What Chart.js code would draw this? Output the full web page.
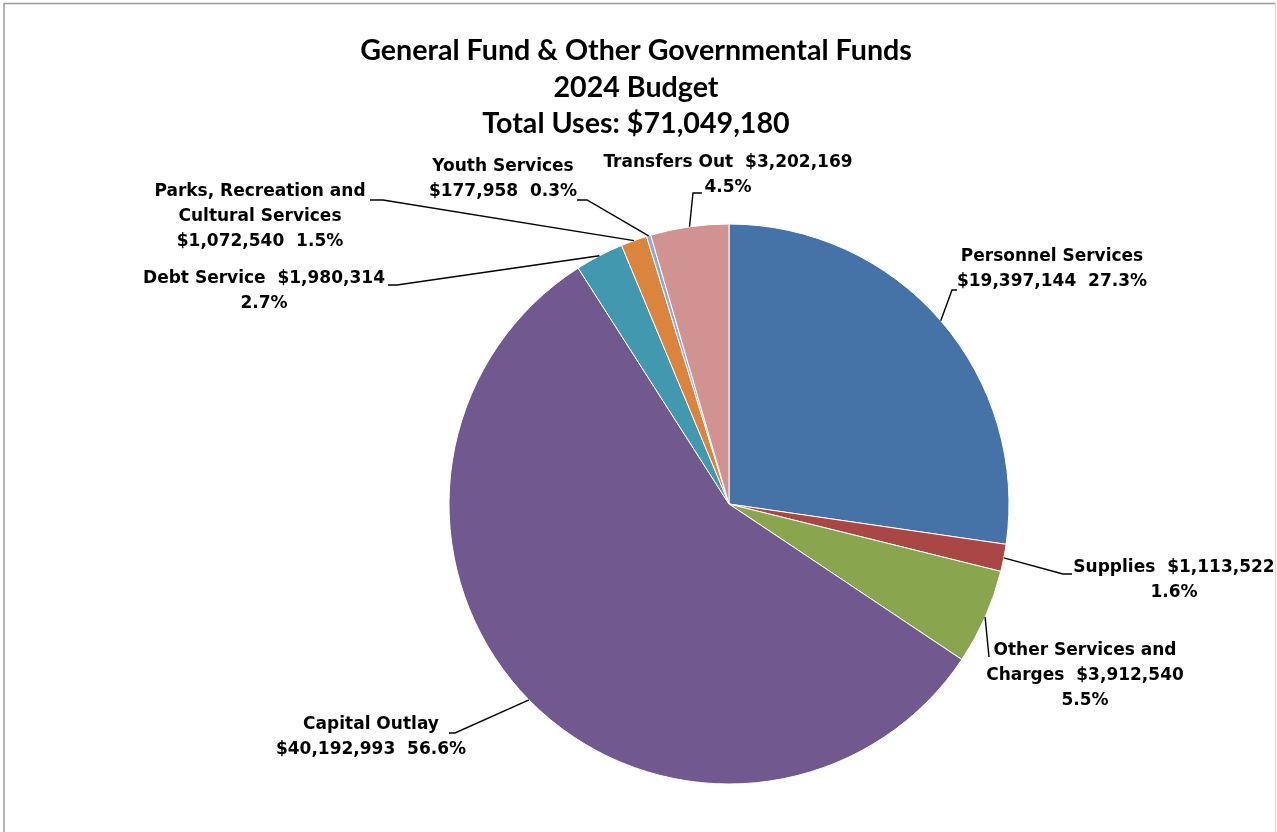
<!DOCTYPE html>
<html>
<head>
<meta charset="utf-8">
<script src="https://cdn.jsdelivr.net/npm/chart.js@4/dist/chart.umd.min.js"></script>
<style>
  html, body { margin: 0; padding: 0; background: #ffffff; }
  canvas { display: block; }
</style>
</head>
<body>
<canvas id="budgetPie" width="1277" height="832"></canvas>
<script>
// Budget categories and amounts (2024 uses of funds)
const categories = [
  'Personnel Services',
  'Supplies',
  'Other Services and Charges',
  'Capital Outlay',
  'Debt Service',
  'Parks, Recreation and Cultural Services',
  'Youth Services',
  'Transfers Out'
];
const amounts = [19397144, 1113522, 3912540, 40192993, 1980314, 1072540, 177958, 3202169];
// Printed share of total for each category
const shareLabels = ['27.3%', '1.6%', '5.5%', '56.6%', '2.7%', '1.5%', '0.3%', '4.5%'];
const sliceColors = ['#4572A7', '#AA4643', '#89A54E', '#71588F', '#4198AF', '#DB843D', '#93A9CF', '#D19392'];
const titleLines = ['General Fund & Other Governmental Funds', '2024 Budget', 'Total Uses: {total}'];

// Label text per slice: {v} = dollar amount, {p} = share of total
const labelTemplates = [
  ['Personnel Services', '{v}  {p}'],
  ['Supplies  {v}', '{p}'],
  ['Other Services and', 'Charges  {v}', '{p}'],
  ['Capital Outlay', '{v}  {p}'],
  ['Debt Service  {v}', '{p}'],
  ['Parks, Recreation and', 'Cultural Services', '{v}  {p}'],
  ['Youth Services', '{v}  {p}'],
  ['Transfers Out  {v}', '{p}']
];

// Where each label sits and how its leader line bends
const labelLayout = [
  { x: 1052, y: 257, elbow: [952, 290], end: [957, 290] },
  { x: 1174, y: 568, elbow: [1063, 574], end: [1072, 574] },
  { x: 1085, y: 651, elbow: [989, 657], end: null },
  { x: 371,  y: 725, elbow: [455, 733], end: [449, 733] },
  { x: 264,  y: 279, elbow: [397, 285], end: [388, 285] },
  { x: 260,  y: 192, elbow: [383, 200], end: [370, 200] },
  { x: 503,  y: 167, elbow: [587, 200], end: [577, 200] },
  { x: 728,  y: 163, elbow: [693, 193], end: [702, 193] }
];

const total = amounts.reduce((a, b) => a + b, 0);
const money = v => '$' + v.toLocaleString('en-US');

const LABEL_FONT = 'bold 17px "DejaVu Sans", sans-serif';
const TITLE_FAMILY = 'Lato, "Liberation Sans", sans-serif';

const framePlugin = {
  id: 'frame',
  beforeDraw(chart) {
    const ctx = chart.ctx;
    ctx.save();
    ctx.fillStyle = '#ffffff';
    ctx.fillRect(0, 0, chart.width, chart.height);
    ctx.strokeStyle = '#9c9c9c';
    ctx.lineWidth = 1.5;
    ctx.beginPath();
    ctx.moveTo(4, chart.height + 5);
    ctx.lineTo(4, 3.5);
    ctx.lineTo(1275.5, 3.5);
    ctx.stroke();
    ctx.strokeStyle = '#d8d8d8';
    ctx.lineWidth = 1;
    ctx.beginPath();
    ctx.moveTo(1275.5, 3.5);
    ctx.lineTo(1275.5, chart.height + 5);
    ctx.stroke();
    ctx.restore();
  }
};

const titlePlugin = {
  id: 'stackedTitle',
  afterDraw(chart) {
    const ctx = chart.ctx;
    ctx.save();
    ctx.font = 'bold 100px ' + TITLE_FAMILY;
    const w = ctx.measureText(titleLines[0]).width;
    const size = 100 * 552 / w;
    ctx.font = 'bold ' + size.toFixed(2) + 'px ' + TITLE_FAMILY;
    ctx.fillStyle = '#000000';
    ctx.textAlign = 'center';
    ctx.textBaseline = 'middle';
    const ys = [51, 88, 124];
    titleLines.forEach((t, i) => {
      ctx.fillText(t.replace('{total}', money(total)), 636, ys[i]);
    });
    ctx.restore();
  }
};

const sliceLabelPlugin = {
  id: 'sliceLabels',
  afterDatasetsDraw(chart) {
    const ctx = chart.ctx;
    const arcs = chart.getDatasetMeta(0).data;
    ctx.save();
    arcs.forEach((arc, i) => {
      const p = arc.getProps(['x', 'y', 'startAngle', 'endAngle', 'outerRadius'], true);
      const mid = (p.startAngle + p.endAngle) / 2;
      const ax = p.x + Math.cos(mid) * p.outerRadius;
      const ay = p.y + Math.sin(mid) * p.outerRadius;
      const lay = labelLayout[i];
      ctx.strokeStyle = '#000000';
      ctx.lineWidth = 1.4;
      ctx.beginPath();
      ctx.moveTo(ax, ay);
      ctx.lineTo(lay.elbow[0], lay.elbow[1]);
      if (lay.end) ctx.lineTo(lay.end[0], lay.end[1]);
      ctx.stroke();

      ctx.font = LABEL_FONT;
      ctx.fillStyle = '#000000';
      ctx.textAlign = 'center';
      ctx.textBaseline = 'middle';
      labelTemplates[i].forEach((line, k) => {
        const txt = line.replace('{v}', money(amounts[i])).replace('{p}', shareLabels[i]);
        ctx.fillText(txt, lay.x, lay.y + k * 25);
      });
    });
    ctx.restore();
  }
};

new Chart(document.getElementById('budgetPie'), {
  type: 'pie',
  data: {
    labels: categories,
    datasets: [{
      data: amounts,
      backgroundColor: sliceColors,
      borderColor: '#ffffff',
      borderWidth: 1
    }]
  },
  options: {
    responsive: false,
    animation: false,
    radius: 280,
    layout: { padding: { left: 449, right: 268, top: 224, bottom: 48 } },
    plugins: {
      legend: { display: false },
      tooltip: { enabled: false },
      title: { display: false }
    }
  },
  plugins: [framePlugin, titlePlugin, sliceLabelPlugin]
});
</script>
</body>
</html>
